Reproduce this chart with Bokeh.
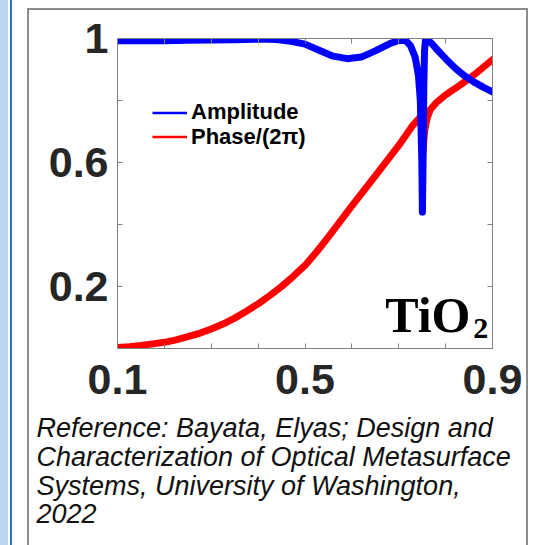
from bokeh.plotting import figure
from bokeh.models import (FixedTicker, LinearAxis, Legend, LegendItem, Label, Title,
                          CustomJSTickFormatter)
from bokeh.embed import file_html
from bokeh.resources import INLINE

# ---------------- data ----------------
amp_x = [0.10, 0.15, 0.20, 0.25, 0.30, 0.35, 0.40, 0.44, 0.47, 0.50, 0.53, 0.56,
         0.59, 0.62, 0.65, 0.68, 0.70, 0.715, 0.725, 0.735, 0.742, 0.746, 0.749,
         0.7505, 0.752, 0.7535, 0.755, 0.757, 0.76, 0.77, 0.78, 0.80, 0.82, 0.84,
         0.86, 0.88, 0.90]
amp_y = [0.993, 0.993, 0.993, 0.994, 0.995, 0.996, 0.998, 0.997, 0.991, 0.982, 0.962, 0.943,
         0.935, 0.940, 0.960, 0.983, 0.994, 0.993, 0.977, 0.940, 0.880, 0.800, 0.620,
         0.440, 0.620, 0.850, 0.960, 0.995, 0.997, 0.985, 0.967, 0.935, 0.905, 0.880,
         0.860, 0.843, 0.828]

phase_x = [0.10, 0.125, 0.15, 0.175, 0.20, 0.225, 0.25, 0.275, 0.30, 0.325, 0.35, 0.375,
           0.40, 0.425, 0.45, 0.475, 0.50, 0.525, 0.55, 0.60, 0.65, 0.70, 0.73, 0.745,
           0.749, 0.7505, 0.752, 0.755, 0.76, 0.767, 0.78, 0.80, 0.83, 0.86, 0.90]
phase_y = [0.003, 0.006, 0.010, 0.015, 0.020, 0.028, 0.038, 0.049, 0.063, 0.079, 0.098, 0.120,
           0.144, 0.171, 0.200, 0.233, 0.268, 0.312, 0.360, 0.460, 0.557, 0.655, 0.720, 0.745,
           0.750, 0.620, 0.640, 0.700, 0.740, 0.770, 0.793, 0.818, 0.849, 0.882, 0.932]

x_major = [0.1, 0.5, 0.9]
x_minor = [0.2, 0.3, 0.4, 0.6, 0.7, 0.8]
y_major = [0.2, 0.6, 1.0]
y_minor = [0.0, 0.4, 0.8]

series_names = ["Amplitude", "Phase/(2\u03c0)"]
material = "TiO"
material_sub = "2"
caption_lines = ["Reference: Bayata, Elyas; Design and",
                 "Characterization of Optical Metasurface",
                 "Systems, University of Washington,",
                 "2022"]

W, H = 533, 545
p = figure(width=W, height=H, x_range=(0.1, 0.9), y_range=(0.0, 1.0),
           output_backend="svg", toolbar_location=None,
           min_border_left=117, min_border_right=41, min_border_top=38,
           min_border_bottom=197)
p.background_fill_color = "white"
p.border_fill_alpha = 0
p.outline_line_color = "#808080"
p.outline_line_width = 1
p.xgrid.visible = False
p.ygrid.visible = False

# page decoration behind the transparent canvas border: blue strip and grey box
p.styles = {"background": (
    "linear-gradient(#bcd6ef,#bcd6ef) 0px 0px / 8px 100% no-repeat,"
    "linear-gradient(#2f6fc0,#2f6fc0) 10px 0px / 2px 100% no-repeat,"
    "linear-gradient(#8c8c8c,#8c8c8c) 27px 8px / 2px 100% no-repeat,"
    "linear-gradient(#8c8c8c,#8c8c8c) 526px 8px / 2px 100% no-repeat,"
    "linear-gradient(#8c8c8c,#8c8c8c) 27px 8px / 501px 2px no-repeat,"
    "#ffffff")}

fmt = CustomJSTickFormatter(code="return String(Math.round(tick*10)/10);")

def style_axis(ax):
    ax.axis_line_color = "#808080"
    ax.major_tick_line_color = "#808080"
    ax.minor_tick_line_color = "#808080"
    ax.major_tick_in = 5
    ax.major_tick_out = 0
    ax.minor_tick_in = 5
    ax.minor_tick_out = 0
    ax.formatter = fmt
    ax.major_label_text_font = "Liberation Sans"
    ax.major_label_text_font_style = "bold"
    ax.major_label_text_font_size = "43px"
    ax.major_label_text_color = "#262626"

p.xaxis.ticker = FixedTicker(ticks=x_major, minor_ticks=x_minor)
p.yaxis.ticker = FixedTicker(ticks=y_major, minor_ticks=y_minor)
style_axis(p.xaxis[0])
style_axis(p.yaxis[0])
p.xaxis[0].major_label_standoff = 16
p.yaxis[0].major_label_standoff = 9

# mirrored tick marks on top and right, without labels (all ticks as minor ticks)
top_ax = LinearAxis(ticker=FixedTicker(ticks=[], minor_ticks=x_major + x_minor))
style_axis(top_ax)
p.add_layout(top_ax, "above")
right_ax = LinearAxis(ticker=FixedTicker(ticks=[], minor_ticks=y_major + y_minor))
style_axis(right_ax)
p.add_layout(right_ax, "right")

# curves (thin copies underneath supply the thin legend samples)
leg_p = p.line(phase_x, phase_y, line_color="#ff0000", line_width=2.5)
p.line(phase_x, phase_y, line_color="#ff0000", line_width=7, line_join="round", line_cap="round")
leg_a = p.line(amp_x, amp_y, line_color="#0000ff", line_width=2.5)
p.line(amp_x, amp_y, line_color="#0000ff", line_width=7, line_join="round", line_cap="round")

# one single-row legend per series, so the rows can sit as tightly as in the original
for name, rend, loc_y in [(series_names[0], leg_a, 223), (series_names[1], leg_p, 198.5)]:
    p.add_layout(Legend(items=[LegendItem(label=name, renderers=[rend])],
                        location=(35, loc_y), glyph_width=35, glyph_height=21,
                        label_height=21, label_standoff=4, padding=0, margin=0,
                        border_line_alpha=0, background_fill_alpha=0,
                        label_text_font="Liberation Sans", label_text_font_style="bold",
                        label_text_font_size="22px", label_text_color="black"), "center")

# material label
p.add_layout(Label(x=0.853, y=0.108, text=material, text_align="right",
                   text_baseline="alphabetic", text_font="Liberation Serif",
                   text_font_style="bold", text_font_size="50px", text_color="black"))
p.add_layout(Label(x=0.891, y=0.064, text=material_sub, text_align="right",
                   text_baseline="alphabetic", text_font="Liberation Serif",
                   text_font_style="bold", text_font_size="30px", text_color="black"))

# caption, under the x axis
p.add_layout(Title(text="\n".join(caption_lines), align="left", offset=-81, standoff=30,
                   text_font="Liberation Sans", text_font_style="italic",
                   text_font_size="27px", text_line_height=0.96,
                   text_baseline="alphabetic", text_color="#111111"), "below")

open("out.html", "w").write(file_html(p, INLINE))
